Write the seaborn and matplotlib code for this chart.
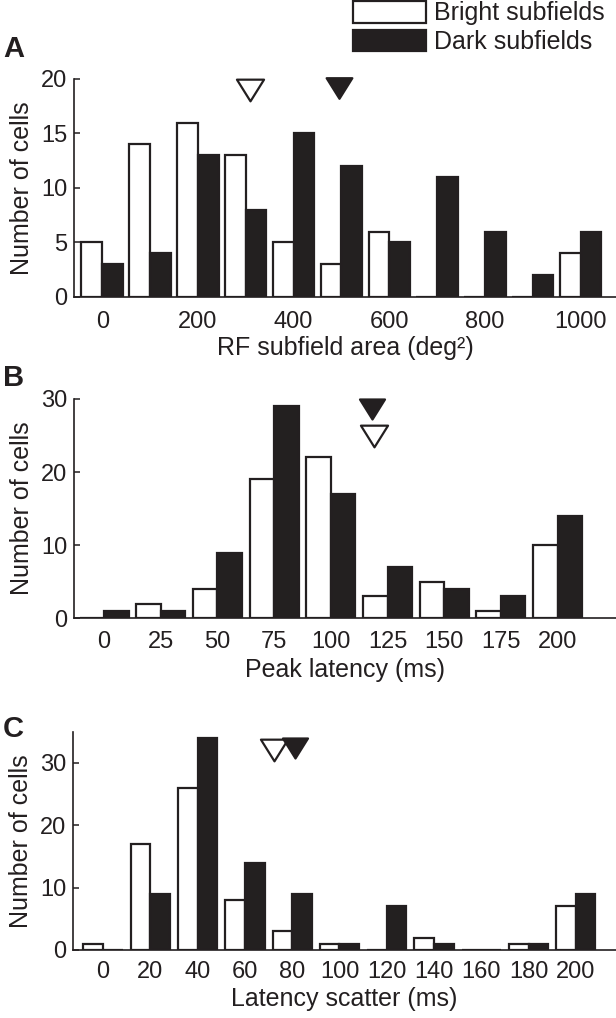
import matplotlib
matplotlib.use("Agg")
import matplotlib.pyplot as plt
import seaborn as sns
import pandas as pd
from matplotlib.patches import Patch
from matplotlib.path import Path

# ---------------- data ----------------
area_bins = [0, 100, 200, 300, 400, 500, 600, 700, 800, 900, 1000]
area_bright = [5, 14, 16, 13, 5, 3, 6, 0, 0, 0, 4]
area_dark = [3, 4, 13, 8, 15, 12, 5, 11, 6, 2, 6]
area_ticklabels = ["0", "200", "400", "600", "800", "1000"]
area_mean_bright = 309
area_mean_dark = 495

lat_bins = [0, 25, 50, 75, 100, 125, 150, 175, 200]
lat_bright = [0, 2, 4, 19, 22, 3, 5, 1, 10]
lat_dark = [1, 1, 9, 29, 17, 7, 4, 3, 14]
lat_ticklabels = ["0", "25", "50", "75", "100", "125", "150", "175", "200"]
lat_mean_bright = 119
lat_mean_dark = 118

sc_bins = [0, 20, 40, 60, 80, 100, 120, 140, 160, 180, 200]
sc_bright = [1, 17, 26, 8, 3, 1, 0, 2, 0, 1, 7]
sc_dark = [0, 9, 34, 14, 9, 1, 7, 1, 0, 1, 9]
sc_ticklabels = ["0", "20", "40", "60", "80", "100", "120", "140", "160", "180", "200"]
sc_mean_bright = 72.5
sc_mean_dark = 81

groups = ["Bright subfields", "Dark subfields"]
INK = "#231f20"

sns.set_theme(style="ticks")
plt.rcParams["font.family"] = ["Liberation Sans", "DejaVu Sans"]
plt.rcParams["text.color"] = INK
plt.rcParams["axes.labelcolor"] = INK
plt.rcParams["xtick.color"] = INK
plt.rcParams["ytick.color"] = INK

fig = plt.figure(figsize=(6.16, 10.18), dpi=100)

TRI = Path([(-1, 0.8), (1, 0.8), (0, -0.8), (-1, 0.8)], closed=True)


def panel(rect, bins, bright, dark, ticklabels, ylim, yticks, xlim, xlabel,
          means, mean_y, width, xpad, xlabpad):
    ax = fig.add_axes(rect)
    df = pd.DataFrame({
        "bin": [str(b) for b in bins] * 2,
        "count": list(bright) + list(dark),
        "group": [groups[0]] * len(bins) + [groups[1]] * len(bins),
    })
    sns.barplot(data=df, x="bin", y="count", hue="group",
                order=[str(b) for b in bins], hue_order=groups,
                palette={groups[0]: "white", groups[1]: INK},
                edgecolor=INK, linewidth=1.6, width=width,
                errorbar=None, legend=False, ax=ax)
    step = bins[1] - bins[0]
    # mean markers
    for (val, face, ms), yy in zip(means, mean_y):
        ax.plot([val / step], [yy], marker=TRI, ms=ms, mfc=face, mec=INK,
                mew=1.6, ls="none", clip_on=False, zorder=5)
    ax.set_xlim(*xlim)
    ax.set_ylim(*ylim)
    ax.set_yticks(yticks)
    ax.set_yticklabels([str(t) for t in yticks])
    pos = [bins.index(int(t)) for t in ticklabels]
    ax.set_xticks(pos)
    ax.set_xticklabels(ticklabels)
    ax.tick_params(axis="x", length=0, pad=xpad, labelsize=17)
    ax.tick_params(axis="y", direction="in", length=4.5, width=1.1, pad=5,
                   labelsize=17)
    for s in ("top", "right"):
        ax.spines[s].set_visible(False)
    for s in ("left", "bottom"):
        ax.spines[s].set_linewidth(1.2)
        ax.spines[s].set_color(INK)
    ax.set_xlabel(xlabel, fontsize=18, labelpad=xlabpad)
    ax.set_ylabel("Number of cells", fontsize=18, labelpad=5)
    return ax


panel([0.1201, 0.7083, 0.8799, 0.2141], area_bins, area_bright, area_dark,
      area_ticklabels, (0, 20), [0, 5, 10, 15, 20], (-0.59, 10.74),
      "RF subfield area (deg²)",
      [(area_mean_bright, "white", 19.5), (area_mean_dark, INK, 18.5)],
      [19.0, 19.15], 0.866, 10.0, 2)

panel([0.1201, 0.3926, 0.8799, 0.2155], lat_bins, lat_bright, lat_dark,
      lat_ticklabels, (0, 30), [0, 10, 20, 30], (-0.53, 9.03),
      "Peak latency (ms)",
      [(lat_mean_bright, "white", 19.5), (lat_mean_dark, INK, 18.0)],
      [24.9, 28.6], 0.865, 9.0, 4)

panel([0.1190, 0.0668, 0.8810, 0.2144], sc_bins, sc_bright, sc_dark,
      sc_ticklabels, (0, 35), [0, 10, 20, 30], (-0.63, 10.85),
      "Latency scatter (ms)",
      [(sc_mean_bright, "white", 19.5), (sc_mean_dark, INK, 18.0)],
      [32.05, 32.4], 0.83, 8.0, 3)

# panel letters
for lab, ytop in (("A", 35), ("B", 364), ("C", 715)):
    fig.text(3 / 616, 1 - ytop / 1018, lab, ha="left", va="top",
             fontsize=21, fontweight="bold", color=INK)

handles = [Patch(facecolor="white", edgecolor=INK, linewidth=1.6),
           Patch(facecolor=INK, edgecolor=INK, linewidth=1.6)]
fig.legend(handles, groups, loc="upper left",
           bbox_to_anchor=(353 / 616, 1 - 1 / 1018), frameon=False,
           fontsize=18, handlelength=2.9, handleheight=0.95,
           handletextpad=0.35, labelspacing=0.18, borderpad=0,
           borderaxespad=0)

fig.savefig("out.png", dpi=100)
